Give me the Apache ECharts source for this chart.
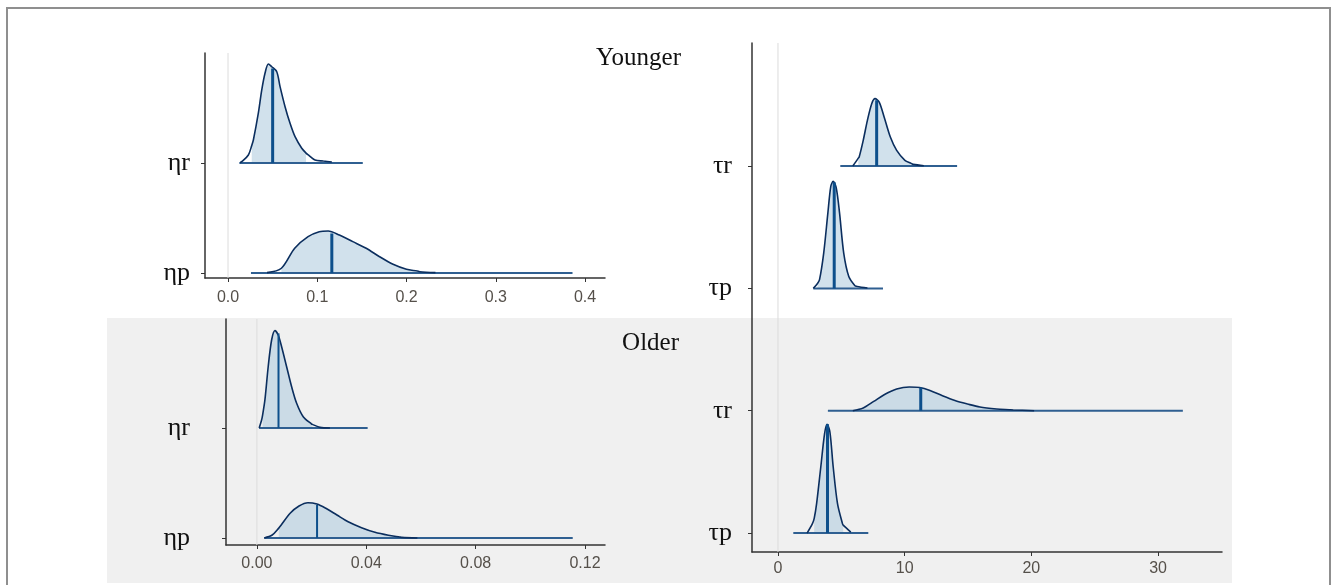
<!DOCTYPE html>
<html><head><meta charset="utf-8">
<script src="https://cdn.jsdelivr.net/npm/echarts@6/dist/echarts.min.js"></script>
<style>html,body{margin:0;padding:0;background:#fff}#c{width:1333px;height:585px}</style>
</head><body><div id="c"></div>
<script>
// ---------------- DATA ----------------
const etaCategories = ['ηp', 'ηr'];
const tauCategories = ['τp', 'τr', 'τp', 'τr'];
const etaYoungTicks = [0, 0.1, 0.2, 0.3, 0.4];
const etaOldTicks = [0, 0.04, 0.08, 0.12];
const tauTicks = [0, 10, 20, 30];
const panelTitles = ['Younger', 'Older'];

// density curves: x values and density heights (in ridge units)
const youngEtaR_x = [0.0135, 0.0154, 0.0228, 0.0266, 0.0284, 0.034, 0.0378, 0.0415, 0.0452, 0.049, 0.0546, 0.0583, 0.0639, 0.0695, 0.0751, 0.0826, 0.0874, 0.09, 0.0975, 0.1068, 0.1163];
const youngEtaR_d = [0.003, 0.012, 0.073, 0.16, 0.209, 0.455, 0.664, 0.818, 0.9, 0.875, 0.83, 0.694, 0.512, 0.361, 0.239, 0.134, 0.09, 0.073, 0.027, 0.018, 0.009];
const youngEtaP_x = [0.0437, 0.0598, 0.0747, 0.0897, 0.1022, 0.1122, 0.1248, 0.1398, 0.1548, 0.1698, 0.1849, 0.1999, 0.212, 0.2148, 0.2324];
const youngEtaP_d = [0.003, 0.043, 0.225, 0.33, 0.375, 0.382, 0.345, 0.285, 0.225, 0.148, 0.079, 0.034, 0.018, 0.012, 0.003];
const oldEtaR_x = [0.00084, 0.00172, 0.0021, 0.00293, 0.00413, 0.00538, 0.00659, 0.00779, 0.00904, 0.01087, 0.0127, 0.01453, 0.01694, 0.02001, 0.0203, 0.02305, 0.02671];
const oldEtaR_d = [0, 0.073, 0.12, 0.255, 0.557, 0.8, 0.885, 0.845, 0.739, 0.557, 0.375, 0.225, 0.103, 0.036, 0.033, 0.006, 0];
const oldEtaP_x = [0.00267, 0.0056, 0.008, 0.00889, 0.01215, 0.0154, 0.01866, 0.02195, 0.02521, 0.02927, 0.03337, 0.03827, 0.04318, 0.04808, 0.0522, 0.05298, 0.05869];
const oldEtaP_d = [0, 0.027, 0.09, 0.118, 0.225, 0.291, 0.321, 0.309, 0.27, 0.209, 0.148, 0.094, 0.052, 0.025, 0.009, 0.006, 0];
const youngTauR_x = [5.91, 6.34, 6.41, 6.73, 7.06, 7.40, 7.66, 7.99, 8.38, 8.87, 9.37, 10.02, 10.52, 10.68, 11.51];
const youngTauR_d = [0, 0.065, 0.074, 0.21, 0.374, 0.51, 0.551, 0.523, 0.401, 0.237, 0.128, 0.047, 0.022, 0.014, 0.003];
const youngTauP_x = [2.79, 3.12, 3.28, 3.61, 3.94, 4.17, 4.36, 4.60, 4.86, 5.19, 5.59, 6.08, 6.24, 7.06];
const youngTauP_d = [0, 0.04, 0.071, 0.289, 0.617, 0.834, 0.875, 0.821, 0.617, 0.289, 0.098, 0.022, 0.016, 0.003];
const oldTauR_x = [5.91, 6.73, 7.56, 8.38, 9.37, 10.36, 11.18, 12.0, 12.98, 13.97, 14.96, 15.94, 17.26, 18.25, 18.57, 20.22];
const oldTauR_d = [0, 0.022, 0.076, 0.131, 0.177, 0.194, 0.19, 0.166, 0.123, 0.084, 0.055, 0.03, 0.014, 0.008, 0.006, 0];
const oldTauP_x = [2.30, 2.72, 2.86, 3.05, 3.38, 3.68, 3.88, 4.10, 4.36, 4.70, 5.09, 5.15, 5.75];
const oldTauP_d = [0, 0.077, 0.12, 0.24, 0.54, 0.813, 0.889, 0.826, 0.54, 0.24, 0.077, 0.065, 0.008];

// summaries: [shadedLow, shadedHigh, median, medianHeight, rangeLow, rangeHigh]
const youngEtaR_s = [0.0266, 0.0874, 0.050, 0.86, 0.0127, 0.151];
const youngEtaP_s = [0.0598, 0.212, 0.1163, 0.36, 0.0257, 0.386];
const oldEtaR_s = [0.0021, 0.0203, 0.0079, 0.86, 0.0008, 0.0405];
const oldEtaP_s = [0.008, 0.0522, 0.022, 0.30, 0.0027, 0.1155];
const youngTauR_s = [6.34, 10.52, 7.79, 0.537, 4.92, 14.14];
const youngTauP_s = [3.12, 6.24, 4.44, 0.867, 2.79, 8.29];
const oldTauR_s = [6.73, 18.25, 11.27, 0.19, 3.94, 31.96];
const oldTauP_s = [2.86, 5.15, 3.91, 0.889, 1.21, 7.13];

// ---------------- LAYOUT ----------------
const FILL = 'rgba(179,205,224,0.6)';
const OUTLINE = '#0b2e5e';
const BASE = '#2f5f91';
const MEDIAN = '#0d4f8b';
const AXIS = '#333333';
const TICKTXT = '#55504a';
const SMOOTH = 0.3;

const grids = [
  { left: 205, top: 53, width: 400, height: 225 },
  { left: 226, top: 319, width: 379, height: 226 },
  { left: 752, top: 43, width: 470, height: 509 }
];
const xRanges = [[-0.0258, 0.4224], [-0.0113, 0.1273], [-2.05, 35.05]];
const yRanges = [[-0.0455, 2.0], [-0.0636, 1.991], [-0.155, 4.006]];
const xTicks = [etaYoungTicks, etaOldTicks, tauTicks];
const xDigits = [1, 2, 0];
const xMargins = [12, 11, 9];
const yCats = [etaCategories, etaCategories, tauCategories];
const yMargins = [15, 36, 20];

const xAxes = grids.map((g, i) => ({
  type: 'value', gridIndex: i, min: xRanges[i][0], max: xRanges[i][1],
  axisLine: { show: true, onZero: false, lineStyle: { color: AXIS, width: 1.5 } },
  axisTick: { show: true, length: 4, customValues: xTicks[i], lineStyle: { color: AXIS } },
  axisLabel: { customValues: xTicks[i], margin: xMargins[i], color: TICKTXT, fontSize: 16,
    fontFamily: 'Liberation Sans, Arial, sans-serif',
    formatter: v => Number(v).toFixed(xDigits[i]) },
  splitLine: { show: false }
}));
const yAxes = grids.map((g, i) => {
  const cv = yCats[i].map((c, k) => k);
  return {
    type: 'value', gridIndex: i, min: yRanges[i][0], max: yRanges[i][1],
    axisLine: { show: true, onZero: false, lineStyle: { color: AXIS, width: 1.5 } },
    axisTick: { show: true, length: 4, customValues: cv, lineStyle: { color: AXIS } },
    axisLabel: { customValues: cv, margin: yMargins[i], color: '#111', fontSize: 26,
      fontFamily: 'Liberation Serif, Times New Roman, serif',
      formatter: v => yCats[i][Math.round(v)] },
    splitLine: { show: false }
  };
});

const series = [];
// zero reference lines
grids.forEach((g, i) => {
  series.push({ type: 'line', xAxisIndex: i, yAxisIndex: i, symbol: 'none', silent: true, z: 1,
    lineStyle: { color: '#dcdcdc', width: 1 },
    data: [[0, yRanges[i][0]], [0, yRanges[i][1]]] });
});

function ridge(gi, xs, ds, st, base, medW) {
  const pts = xs.map((x, k) => [x, base + ds[k]]);
  const inner = pts.filter(p => p[0] >= st[0] - 1e-9 && p[0] <= st[1] + 1e-9);
  const common = { type: 'line', xAxisIndex: gi, yAxisIndex: gi, symbol: 'none', silent: true };
  series.push(Object.assign({}, common, { z: 2, data: inner, smooth: SMOOTH,
    lineStyle: { width: 0, opacity: 0 },
    areaStyle: { color: FILL, opacity: 1, origin: base } }));
  series.push(Object.assign({}, common, { z: 3, data: [[st[4], base], [st[5], base]],
    lineStyle: { color: BASE, width: 2 } }));
  series.push(Object.assign({}, common, { z: 4, data: pts, smooth: SMOOTH,
    lineStyle: { color: OUTLINE, width: 1.6 } }));
  series.push(Object.assign({}, common, { z: 5, data: [[st[2], base], [st[2], base + st[3]]],
    lineStyle: { color: MEDIAN, width: medW } }));
}
ridge(0, youngEtaR_x, youngEtaR_d, youngEtaR_s, 1, 3);
ridge(0, youngEtaP_x, youngEtaP_d, youngEtaP_s, 0, 3);
ridge(1, oldEtaR_x, oldEtaR_d, oldEtaR_s, 1, 2);
ridge(1, oldEtaP_x, oldEtaP_d, oldEtaP_s, 0, 2);
ridge(2, youngTauR_x, youngTauR_d, youngTauR_s, 3, 3);
ridge(2, youngTauP_x, youngTauP_d, youngTauP_s, 2, 3);
ridge(2, oldTauR_x, oldTauR_d, oldTauR_s, 1, 3);
ridge(2, oldTauP_x, oldTauP_d, oldTauP_s, 0, 3);

const chart = echarts.init(document.getElementById('c'), null, { renderer: 'canvas' });
chart.setOption({
  animation: false,
  backgroundColor: '#ffffff',
  grid: grids.map(g => Object.assign({ containLabel: false }, g)),
  xAxis: xAxes,
  yAxis: yAxes,
  series: series,
  graphic: [
    { type: 'rect', z: -10, silent: true, shape: { x: 107, y: 318, width: 1125, height: 265 },
      style: { fill: '#f0f0f0' } },
    { type: 'rect', z: -9, silent: true, shape: { x: 7, y: 8, width: 1323, height: 600 },
      style: { fill: 'none', stroke: '#8f8f8f', lineWidth: 2 } },
    { type: 'text', z: 100, silent: true, x: 681, y: 58,
      style: { text: panelTitles[0], fill: '#111', font: '25px "Liberation Serif", "Times New Roman", serif',
        align: 'right', verticalAlign: 'middle' } },
    { type: 'text', z: 100, silent: true, x: 679, y: 343,
      style: { text: panelTitles[1], fill: '#111', font: '25px "Liberation Serif", "Times New Roman", serif',
        align: 'right', verticalAlign: 'middle' } }
  ]
});
</script>
</body></html>
